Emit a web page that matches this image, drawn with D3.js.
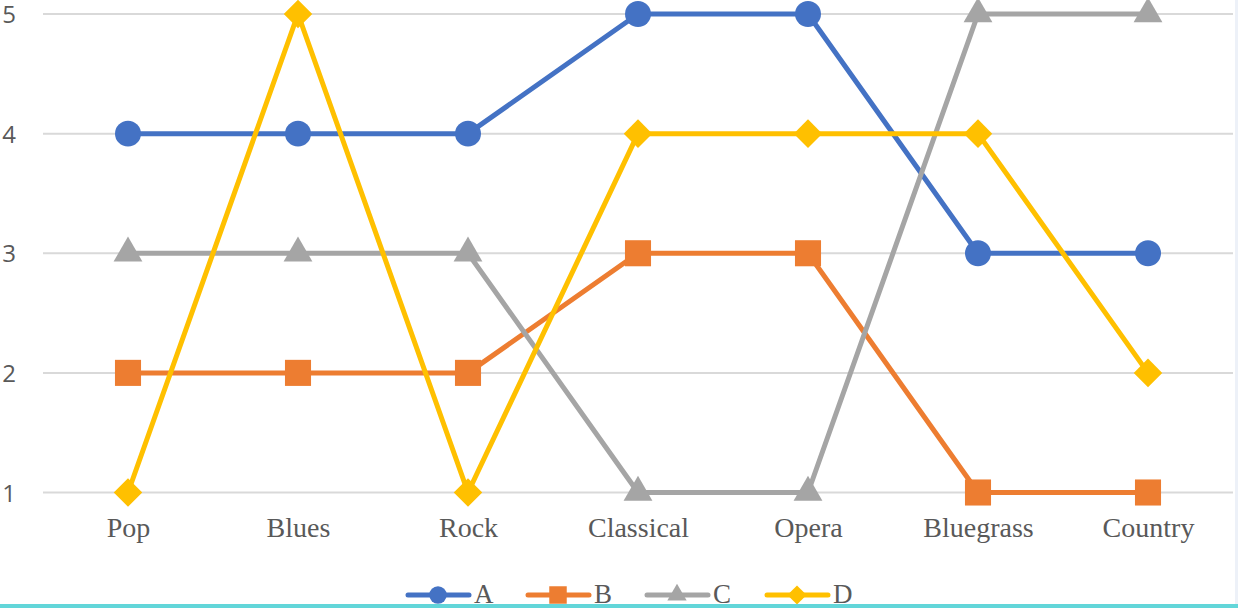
<!DOCTYPE html>
<html>
<head>
<meta charset="utf-8">
<script src="https://cdn.jsdelivr.net/npm/d3@7"></script>
<style>
  body { margin: 0; background: #fff; }
  svg { display: block; }
</style>
</head>
<body>
<svg width="1238" height="608"></svg>
<script>
const categories = ["Pop", "Blues", "Rock", "Classical", "Opera", "Bluegrass", "Country"]
const seriesA = [4, 4, 4, 5, 5, 3, 3]
const seriesB = [2, 2, 2, 3, 3, 1, 1]
const seriesC = [3, 3, 3, 1, 1, 5, 5]
const seriesD = [1, 5, 1, 4, 4, 4, 2]
const seriesNames = ["A", "B", "C", "D"]
const yTicks = [1, 2, 3, 4, 5]

const colors = ["#4472C4", "#ED7D31", "#A5A5A5", "#FFC000"]
const shapes = [d3.symbolCircle, d3.symbolSquare, d3.symbolTriangle, d3.symbolDiamond2]
const shapeSizes = [530, 680, 360, 520]

const svg = d3.select("svg")
const width = 1238, height = 608

const x = d3.scalePoint().domain(categories).range([43, 1233]).padding(0.5)
const y = d3.scaleLinear().domain([1, 5]).range([492.5, 14])

// gridlines
svg.append("g")
    .selectAll("line")
    .data(yTicks)
    .enter()
    .append("line")
    .attr("x1", 43)
    .attr("x2", 1233)
    .attr("y1", d => y(d))
    .attr("y2", d => y(d))
    .attr("stroke", "#d9d9d9")
    .attr("stroke-width", 2)

// y labels
const yAxis = svg.append("g")
    .attr("transform", "translate(16,0)")
    .call(d3.axisLeft(y).tickValues(yTicks).tickSize(0).tickPadding(0).tickFormat(d3.format("d")))
yAxis.select(".domain").remove()
yAxis.selectAll("text")
    .attr("font-family", "'Open Sans', 'Noto Sans', sans-serif")
    .attr("font-size", 24)
    .attr("fill", "#595959")
    .attr("dy", "0.36em")

// x labels
const xAxis = svg.append("g")
    .attr("transform", "translate(0,537)")
    .call(d3.axisBottom(x).tickSize(0).tickPadding(0))
xAxis.select(".domain").remove()
xAxis.selectAll("text")
    .attr("font-family", "'Liberation Serif', 'Times New Roman', serif")
    .attr("font-size", 28)
    .attr("fill", "#595959")
    .attr("dy", 0)

const allSeries = [seriesA, seriesB, seriesC, seriesD]
const line = d3.line().x((d, i) => x(categories[i])).y(d => y(d))

allSeries.forEach((vals, s) => {
    const g = svg.append("g")
    g.append("path")
        .attr("d", line(vals))
        .attr("fill", "none")
        .attr("stroke", colors[s])
        .attr("stroke-width", 5)
        .attr("stroke-linejoin", "round")
    g.selectAll("path.mark")
        .data(vals)
        .enter()
        .append("path")
        .attr("class", "mark")
        .attr("d", d3.symbol().type(shapes[s]).size(shapeSizes[s]))
        .attr("transform", (d, i) => `translate(${x(categories[i])},${y(d)})`)
        .attr("fill", colors[s])
})

// legend
const legendX = [438, 558, 677, 797]
const legend = svg.append("g")
seriesNames.forEach((name, s) => {
    const g = legend.append("g").attr("transform", `translate(${legendX[s]},595)`)
    g.append("line")
        .attr("x1", -30).attr("x2", 31)
        .attr("stroke", colors[s])
        .attr("stroke-width", 5)
        .attr("stroke-linecap", "round")
    g.append("path")
        .attr("d", d3.symbol().type(shapes[s]).size(shapeSizes[s] * 0.45))
        .attr("fill", colors[s])
    g.append("text")
        .attr("x", 36)
        .attr("y", 8)
        .attr("font-family", "'Liberation Serif', 'Times New Roman', serif")
        .attr("font-size", 27)
        .attr("fill", "#595959")
        .text(name)
})

// frame edges
svg.append("rect")
    .attr("x", 1235).attr("y", 0)
    .attr("width", 3).attr("height", height)
    .attr("fill", "#edf1f8")
svg.append("rect")
    .attr("x", 0).attr("y", 604)
    .attr("width", width).attr("height", 4)
    .attr("fill", "#62d6d9")
</script>
</body>
</html>
